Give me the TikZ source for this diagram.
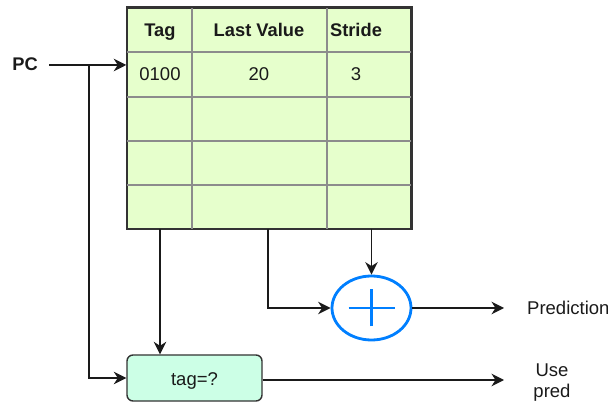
\documentclass[tikz,border=0pt]{standalone}
\usepackage{fontspec}
\setmainfont{Liberation Sans}
\usetikzlibrary{arrows.meta,shapes.geometric}

\definecolor{tablefill}{HTML}{E6FFCC}
\definecolor{cmpfill}{HTML}{CCFFE6}
\definecolor{addblue}{HTML}{007FFF}
\definecolor{gridgrey}{HTML}{8C8C8C}
\definecolor{frame}{HTML}{333333}
\definecolor{ink}{HTML}{1A1A1A}

\begin{document}
\begin{tikzpicture}[x=1pt,y=-1pt,
  txt/.style={font=\fontsize{18.5}{20}\selectfont, text=ink, inner sep=0pt, anchor=base},
  head/.style={txt, font=\fontsize{18.3}{20}\selectfont\bfseries},
  wire/.style={draw=ink, line width=1.5pt,
    -{Stealth[length=12.5pt,width=12.5pt,inset=4pt]}},
  grid/.style={draw=gridgrey, line width=1.5pt},
  tablebox/.style={rectangle, fill=tablefill, draw=frame, line width=1.5pt,
    minimum width=284pt, minimum height=221pt, inner sep=0pt},
  cmpbox/.style={rectangle, rounded corners=6pt, fill=cmpfill, draw=frame,
    line width=1.4pt, minimum width=135pt, minimum height=46pt},
  adder/.style={ellipse, draw=addblue, line width=2.8pt,
    minimum width=79pt, minimum height=64pt, inner sep=0pt},
  plus/.style={draw=addblue, line width=2.8pt}
]
\useasboundingbox (0,0) rectangle (608,403);

% prediction table
\node[tablebox] (tbl) at (269,118.5) {};
\foreach \y in {52,97,141,185}
  \draw[grid] (127,\y) -- (411,\y);
\foreach \x in {192,327}
  \draw[grid] (\x,8) -- (\x,229);
\draw[draw=frame, line width=1.5pt] (tbl.north west) rectangle (tbl.south east);

% header row
\node[head] (hTag)    at (160,37) {Tag};
\node[head] (hLast)   at (259,37) {Last Value};
\node[head] (hStride) at (356,37) {Stride};
% first entry
\node[txt] (eTag)    at (160,80.5) {0100};
\node[txt] (eLast)   at (259,80.5) {20};
\node[txt] (eStride) at (356,80.5) {3};

% program counter input
\node[head, anchor=base east] (pc) at (38,70.5) {PC};
\coordinate (pcout) at (49,65);
\coordinate (split) at (89,65);

% outputs at the bottom of the table
\coordinate (tagout) at (160,229);
\coordinate (lvout)  at (268,229);
\coordinate (strout) at (371.5,229);

% adder and tag comparator
\node[adder] (add) at (371.5,308) {};
\draw[plus] ([xshift=-23pt]add.center) -- ([xshift=23pt]add.center);
\draw[plus] ([yshift=-18.5pt]add.center) -- ([yshift=18.5pt]add.center);

\node[cmpbox] (cmp) at (194.5,378) {};
\node[txt] (cmptxt) at (194.5,385) {tag=?};

% output labels
\node[txt, anchor=base west] (pred) at (527,315) {Prediction};
\node[txt] (use)  at (552,376.5) {Use};
\node[txt] (pred2) at (552,398) {pred};
\coordinate (predend) at (504,308);
\coordinate (useend)  at (504,380);

% connections
\draw[wire] (pcout) -- (pcout -| tbl.west);
\draw[wire] (split) |- (cmp.west);
\draw[wire] (tagout) -- (tagout |- cmp.north);
\draw[wire] (lvout) |- (add.west);
\draw[wire] (strout) -- (add.north);
\draw[wire] (add.east) -- (predend);
\draw[wire] (cmp.east |- useend) -- (useend);
\end{tikzpicture}
\end{document}
